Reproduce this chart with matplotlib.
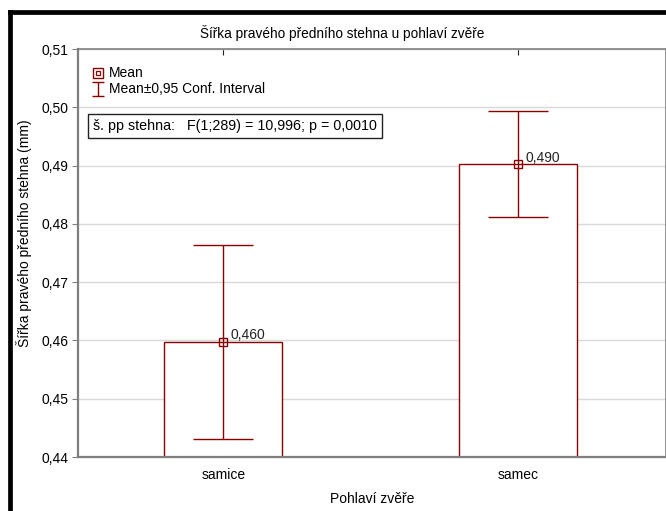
import matplotlib
matplotlib.use('Agg')
import matplotlib.pyplot as plt
from matplotlib.lines import Line2D
from matplotlib.path import Path
from matplotlib.ticker import FuncFormatter, MultipleLocator

plt.rcParams['font.family'] = ['Liberation Sans', 'DejaVu Sans']

RED = '#8b0000'
GRID = '#d9d9d9'
AXIS = '#7f7f7f'

CATEGORIES = ['samice', 'samec']
MEANS = [0.4597, 0.4902]
CI_LOW = [0.4431, 0.4811]
CI_HIGH = [0.4763, 0.4993]
STAT_TEXT = 'š. pp stehna:   F(1;289) = 10,996; p = 0,0010'

W, H = 666, 511
AX_L, AX_B, AX_W, AX_H = 78, 54, 588, 408


def comma(v, _pos=None):
    return f'{v:.2f}'.replace('.', ',')


def axpos(px, py):
    # pixel (from top-left of figure) -> axes fraction
    return (px - AX_L) / AX_W, (H - py - AX_B) / AX_H


fig = plt.figure(figsize=(W / 100, H / 100), dpi=100)
ax = fig.add_axes([AX_L / W, AX_B / H, AX_W / W, AX_H / H])

xs = list(range(len(CATEGORIES)))
ax.bar(xs, [m - 0.44 for m in MEANS], bottom=0.44, width=0.4,
       facecolor='white', edgecolor=RED, lw=1.0, zorder=2)
err = [[m - lo for m, lo in zip(MEANS, CI_LOW)], [hi - m for m, hi in zip(MEANS, CI_HIGH)]]
ax.errorbar(xs, MEANS, yerr=err, fmt='none', ecolor=RED, elinewidth=1.0,
            capsize=21.6, capthick=1.0, zorder=3)
ax.plot(xs, MEANS, 's', ms=5.5, mfc='none', mec=RED, mew=1.0, zorder=4)
for x, m in zip(xs, MEANS):
    ax.annotate(f'{m:.3f}'.replace('.', ','), (x, m), textcoords='offset points',
                xytext=(5, 2), fontsize=10, color='#222222')

ax.set_xlim(-0.493, 1.5)
ax.set_ylim(0.44, 0.51)
ax.yaxis.set_major_locator(MultipleLocator(0.01))
ax.yaxis.set_major_formatter(FuncFormatter(comma))
ax.set_xticks(xs)
ax.set_xticklabels(CATEGORIES)
ax.grid(axis='y', color=GRID, lw=1.0, zorder=0)
ax.tick_params(axis='y', direction='out', length=4, color=AXIS, labelsize=10, pad=3)
ax.tick_params(axis='x', direction='in', length=4, color='#222222', labelsize=10, pad=8,
               top=True)
for side in ['left', 'bottom']:
    ax.spines[side].set_color(AXIS)
    ax.spines[side].set_linewidth(1.6)
for side in ['top', 'right']:
    ax.spines[side].set_color(AXIS)
    ax.spines[side].set_linewidth(1.2)

ax.set_xlabel('Pohlaví zvěře', fontsize=10, labelpad=7)
ax.set_ylabel('Šířka pravého předního stehna (mm)', fontsize=10, labelpad=4)
ax.yaxis.set_label_coords(axpos(32, 0)[0], axpos(0, 233)[1])
fig.text(342 / W, 1 - 33 / H, 'Šířka pravého předního stehna u pohlaví zvěře',
         ha='center', va='center', fontsize=9.8)

# legend (drawn by hand, like the original)
ci_marker = Path([(-0.45, 0.5), (0.45, 0.5), (0, 0.5), (0, -0.5), (-0.45, -0.5), (0.45, -0.5)],
                 [Path.MOVETO, Path.LINETO, Path.MOVETO, Path.LINETO, Path.MOVETO, Path.LINETO])
lx, ly1 = axpos(97.5, 72.5)
_, ly2 = axpos(97.5, 88.5)
ax.plot([lx], [ly1], 's', ms=7.9, mfc='none', mec=RED, mew=1.0, transform=ax.transAxes,
        clip_on=False)
ax.plot([lx], [ly1], 's', ms=3.2, mfc='none', mec=RED, mew=0.9, transform=ax.transAxes,
        clip_on=False)
ax.plot([lx], [ly2], ls='none', marker=ci_marker, ms=9.4, mec=RED, mew=1.0,
        transform=ax.transAxes, clip_on=False)
tx = axpos(109, 0)[0]
ax.text(tx, ly1, 'Mean', transform=ax.transAxes, fontsize=10, va='center')
ax.text(tx, ly2, 'Mean±0,95 Conf. Interval', transform=ax.transAxes, fontsize=10, va='center')

bx, by = axpos(93, 126)
ax.text(bx, by, STAT_TEXT, transform=ax.transAxes, fontsize=10.3, va='center',
        bbox=dict(boxstyle='square,pad=0.35', facecolor='white', edgecolor='#222222', lw=1.0))

# outer window frame (cropped on the right and bottom)
fig.add_artist(Line2D([9.5 / W, 9.5 / W], [0, 1 - 12 / H], transform=fig.transFigure,
                      color='black', lw=3.4, solid_capstyle='projecting'))
fig.add_artist(Line2D([9.5 / W, 1], [1 - 12 / H, 1 - 12 / H], transform=fig.transFigure,
                      color='black', lw=3.4, solid_capstyle='projecting'))

fig.savefig('out.png', dpi=100, facecolor='white')
